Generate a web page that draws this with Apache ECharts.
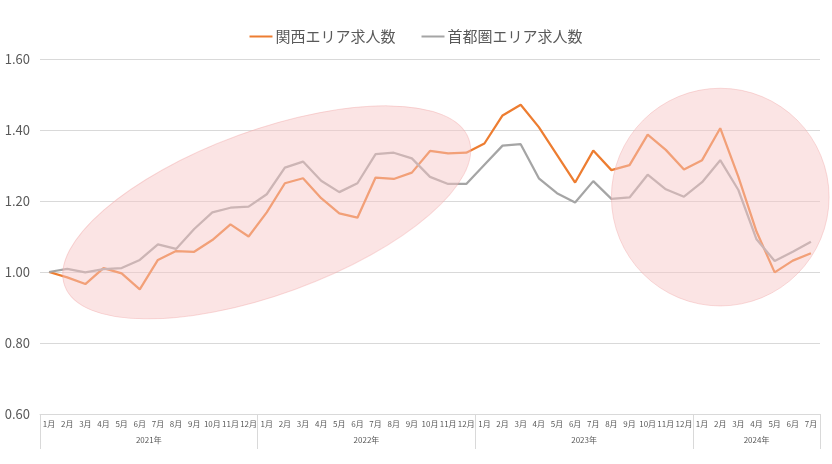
<!DOCTYPE html>
<html><head><meta charset="utf-8">
<script src="https://cdn.jsdelivr.net/npm/echarts@6/dist/echarts.min.js"></script>
<style>html,body{margin:0;padding:0;background:#fff}#c{width:832px;height:464px}</style>
</head><body><div id="c"></div>
<script>
const years = ['2021年','2022年','2023年','2024年'];
const monthsPerYear = [12,12,12,7];
const monthLabels = ['1月','2月','3月','4月','5月','6月','7月','8月','9月','10月','11月','12月'];
const kansai = [1.00,0.985,0.966,1.011,0.996,0.951,1.034,1.059,1.057,1.090,1.134,1.100,
  1.168,1.250,1.264,1.208,1.165,1.153,1.266,1.262,1.280,1.341,1.334,1.336,
  1.362,1.441,1.471,1.408,1.330,1.252,1.342,1.287,1.301,1.387,1.344,1.289,
  1.315,1.405,1.268,1.114,0.999,1.032,1.053];
const shutoken = [1.00,1.009,0.999,1.008,1.011,1.034,1.078,1.065,1.121,1.168,1.181,1.184,
  1.219,1.294,1.311,1.257,1.225,1.250,1.332,1.336,1.320,1.268,1.248,1.248,
  1.302,1.356,1.360,1.264,1.222,1.196,1.256,1.206,1.210,1.274,1.233,1.212,
  1.253,1.315,1.231,1.092,1.031,1.057,1.085];
const seriesNames = ['関西エリア求人数','首都圏エリア求人数'];
// highlight annotations (in data units: category index, value)
const ellipseAnno = {cx: 12.07, cy: 1.168, rxBands: 11.85, ryValue: 0.231, angleDeg: 20};
const circleAnno = {cx: 36.6, cy: 1.211, rBands: 6.0};

const months = [], yearCats = [], yearStart = {};
let k = 0;
years.forEach((y, yi) => {
  for (let m = 0; m < monthsPerYear[yi]; m++) {
    months.push(monthLabels[m]);
    yearCats.push(y);
    if (m === 0) yearStart[k] = yi;
    k++;
  }
});
const yearLabelIdx = {};
let s = 0;
years.forEach((y, yi) => {
  const n = monthsPerYear[yi];
  yearLabelIdx[s + Math.floor((n - 1) / 2)] = {name: y, even: n % 2 === 0};
  s += n;
});

const chart = echarts.init(document.getElementById('c'));
const txt = '#595959', grid = '#D9D9D9';
const font = '"Noto Sans CJK JP", "Noto Sans", sans-serif';
chart.setOption({
  animation: false,
  textStyle: {fontFamily: font},
  legend: {
    top: 24, left: 'center', itemWidth: 23, itemHeight: 2, itemGap: 26, icon: 'rect',
    textStyle: {fontSize: 15, color: txt, fontFamily: font, padding: [0,0,0,-2]},
    data: seriesNames
  },
  grid: {left: 40, right: 12, top: 59, bottom: 50, containLabel: false},
  xAxis: [{
    type: 'category', data: months, position: 'bottom',
    axisLine: {lineStyle: {color: grid, width: 1}},
    axisTick: {show: false},
    axisLabel: {interval: 0, fontSize: 8, color: txt, margin: 6, fontFamily: font}
  }, {
    type: 'category', data: yearCats, position: 'bottom',
    axisLine: {show: false},
    axisTick: {show: true, length: 35, lineStyle: {color: grid},
      interval: (i) => yearStart[i] !== undefined},
    axisLabel: {interval: 0, margin: 22, color: txt, fontSize: 8, fontFamily: font,
      formatter: (v, i) => { const l = yearLabelIdx[i]; if (!l) return ''; return l.even ? '{e|' + l.name + '}' : '{o|' + l.name + '}'; },
      rich: {e: {padding: [0,0,0,18], fontSize: 8, color: txt, fontFamily: font}, o: {fontSize: 8, color: txt, fontFamily: font}}
    }
  }],
  yAxis: {
    type: 'value', min: 0.6, max: 1.6, interval: 0.2,
    axisLine: {show: false}, axisTick: {show: false},
    splitLine: {lineStyle: {color: grid, width: 1}},
    axisLabel: {formatter: v => v.toFixed(2), fontSize: 13, color: txt, margin: 10, fontFamily: font}
  },
  series: [
    {name: seriesNames[0], type: 'line', data: kansai, symbol: 'none', xAxisIndex: 0,
      lineStyle: {color: '#ED7D31', width: 2.25}, itemStyle: {color: '#ED7D31'}},
    {name: seriesNames[1], type: 'line', data: shutoken, symbol: 'none', xAxisIndex: 0,
      lineStyle: {color: '#A5A5A5', width: 2.25}, itemStyle: {color: '#A5A5A5'}}
  ]
});

function px(i, v) { return chart.convertToPixel({xAxisIndex: 0, yAxisIndex: 0}, [i, v]); }
const p0 = px(0, 1), p1 = px(1, 1.2);
const band = p1[0] - p0[0];
const perVal = (p0[1] - p1[1]) / 0.2;
const ec = px(ellipseAnno.cx, ellipseAnno.cy);
const cc = px(circleAnno.cx, circleAnno.cy);
const annoStyle = {fill: 'rgba(247,198,198,0.48)', stroke: 'rgba(240,165,165,0.4)', lineWidth: 1};
chart.setOption({
  graphic: [
    {type: 'ellipse', x: ec[0], y: ec[1], rotation: ellipseAnno.angleDeg * Math.PI / 180, z: 100,
      shape: {cx: 0, cy: 0, rx: ellipseAnno.rxBands * band, ry: ellipseAnno.ryValue * perVal},
      style: annoStyle, silent: true},
    {type: 'circle', x: cc[0], y: cc[1], z: 100,
      shape: {cx: 0, cy: 0, r: circleAnno.rBands * band},
      style: annoStyle, silent: true}
  ]
});
</script></body></html>
